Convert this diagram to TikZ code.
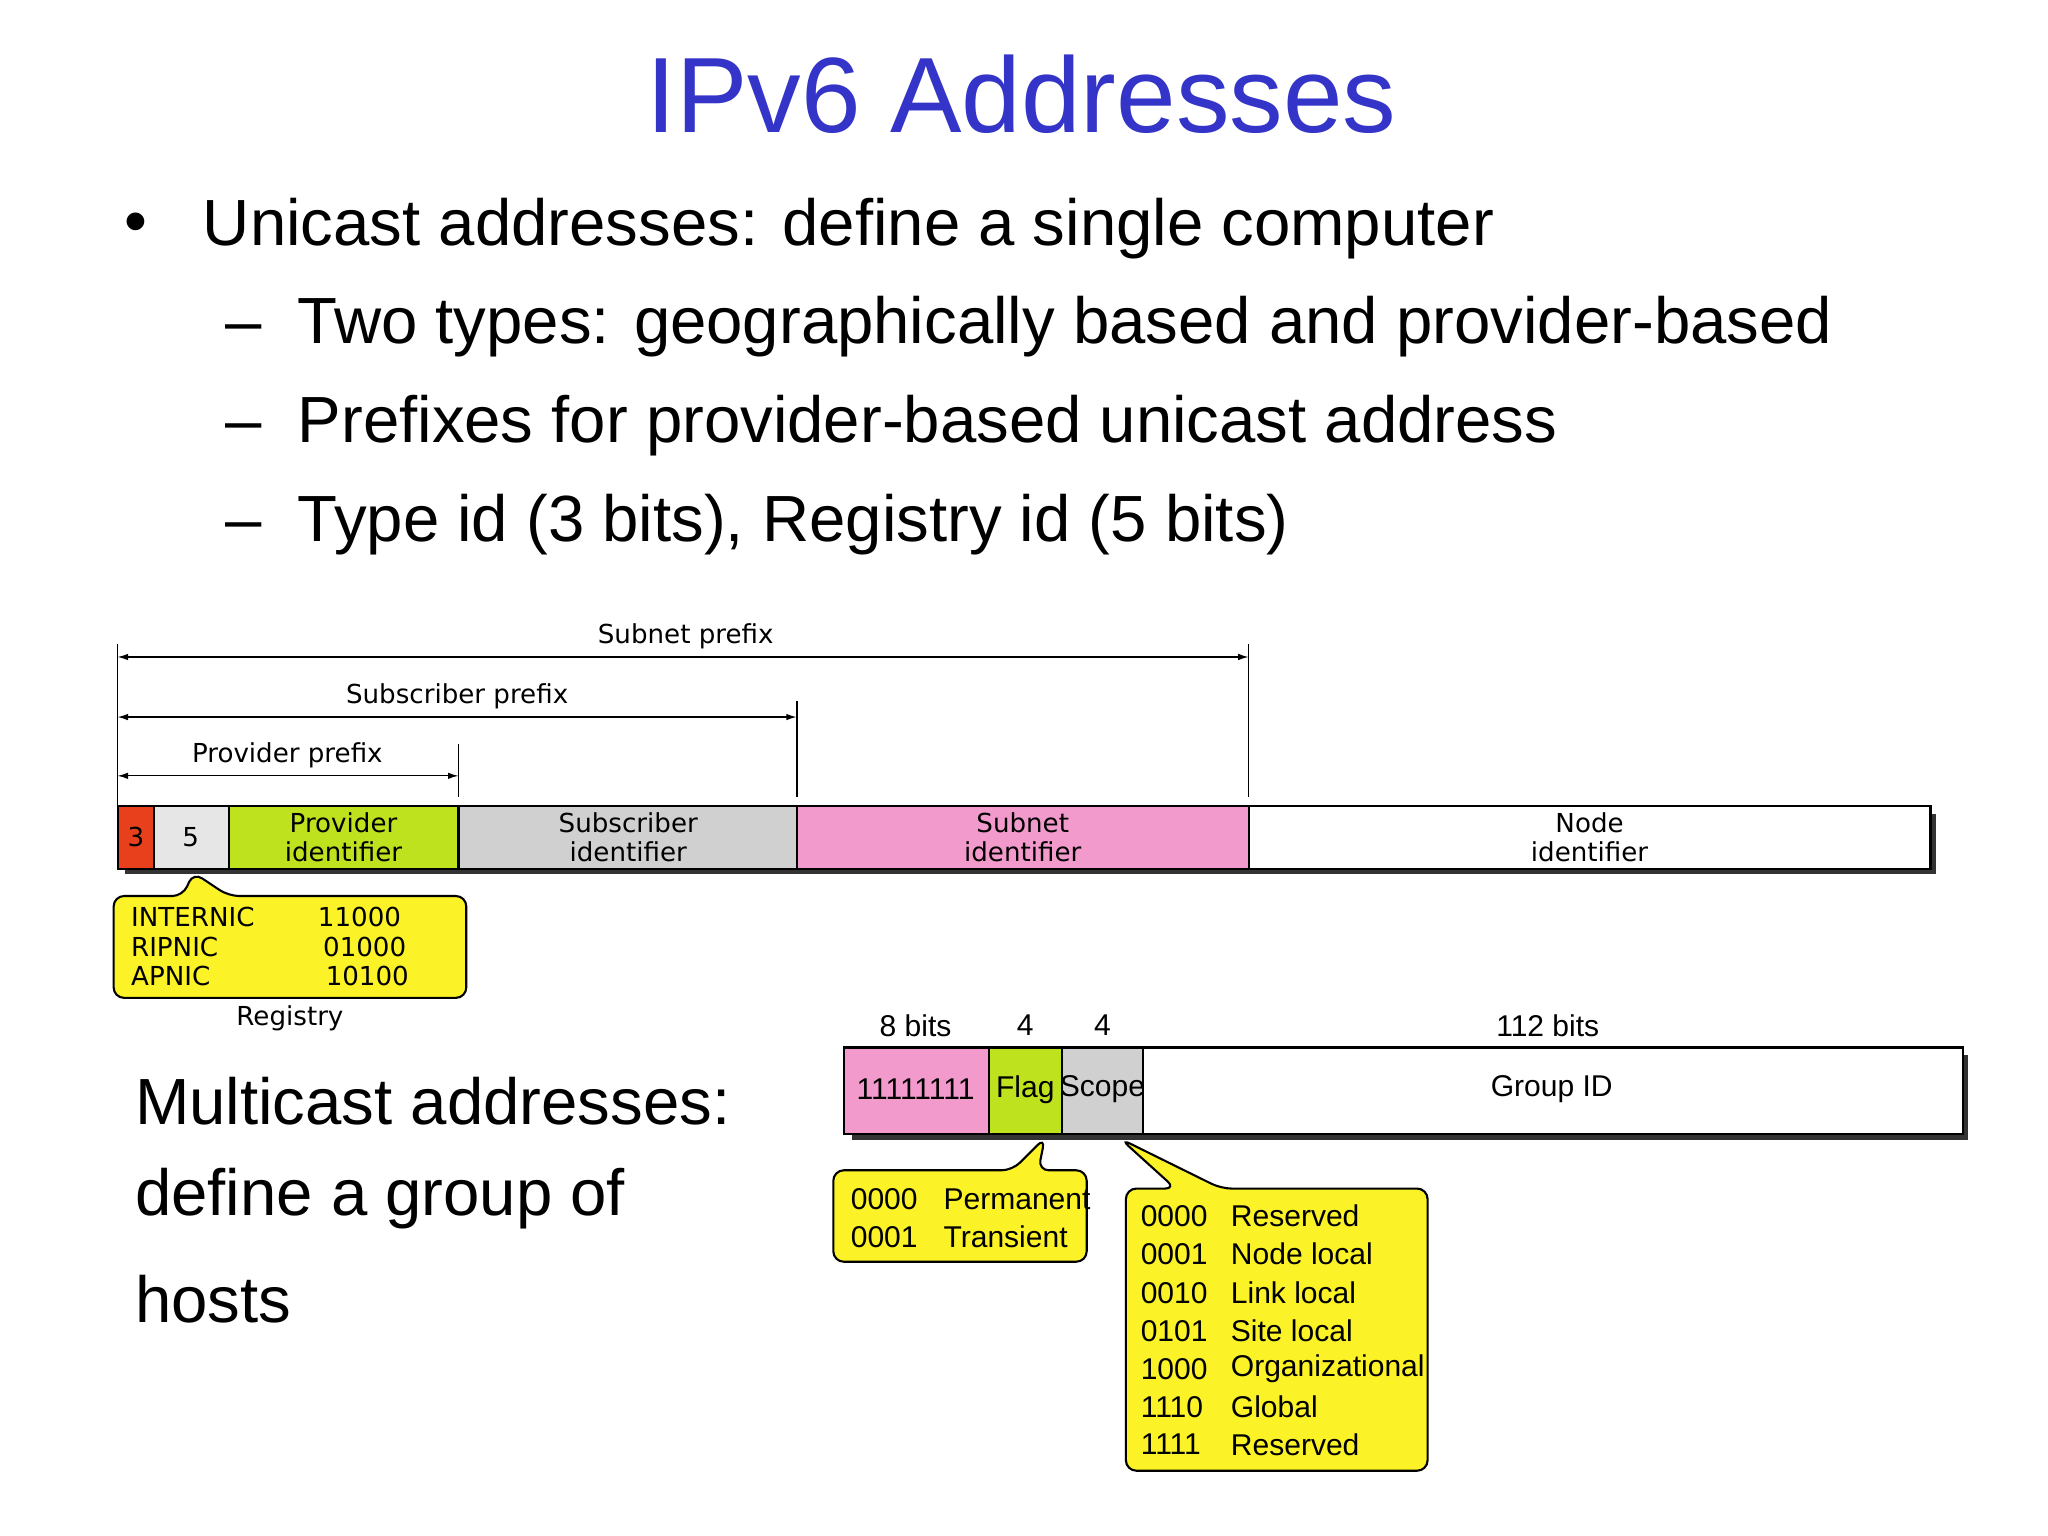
\documentclass[tikz,border=0pt]{standalone}
\usepackage{fontspec}
\setmainfont{Liberation Sans}
\newfontfamily\dfont{DejaVu Sans}
\usetikzlibrary{arrows.meta}
\definecolor{ttl}{HTML}{3434C8}
\definecolor{cred}{HTML}{E8401C}
\definecolor{cgray}{HTML}{D0D0D0}
\definecolor{clgray}{HTML}{E6E6E6}
\definecolor{cgreen}{HTML}{BFE21E}
\definecolor{cpink}{HTML}{F39ACD}
\definecolor{cyel}{HTML}{FCF228}
\tikzset{
  seg/.style={draw=black, line width=0.8pt},
  lbl/.style={font=\dfont\fontsize{10}{11}\selectfont, align=center, inner sep=0},
  mlbl/.style={font=\fontsize{11.5}{12}\selectfont, inner sep=0},
  dim/.style={line width=0.5pt, {Latex[length=4pt,width=2.5pt]}-{Latex[length=4pt,width=2.5pt]}},
  callout/.style={draw=black, fill=cyel, line width=0.8pt, rounded corners=4pt},
  body/.style={font=\fontsize{25}{30}\selectfont, anchor=west, inner sep=0},
}
\begin{document}
\begin{tikzpicture}[x=0.5pt,y=-0.5pt]
\useasboundingbox (0,0) rectangle (1568,1176);
\node[text=ttl, font=\fontsize{41}{48}\selectfont] (title) at (782,72) {IPv6 Addresses};
\node[body] (b0) at (95,175) {•};
\node[body] (b1) at (155,175) {Unicast addresses: define a single computer};
\node[body] (d1) at (172,250) {–\ \ Two types: geographically based and provider-based};
\node[body] (d2) at (172,326) {–\ \ Prefixes for provider-based unicast address};
\node[body] (d3) at (172,402) {–\ \ Type id (3 bits), Registry id (5 bits)};
\node[body] (m1) at (103,843) {Multicast addresses:};
\node[body] (m2) at (103,918) {define a group of};
\node[body] (m3) at (103,995) {hosts};
% unicast bar
\fill[black!80] (96,623) rectangle (1482,669);
\draw[seg, fill=cred] (90,617) rectangle (118,665);
\draw[seg, fill=clgray] (118,617) rectangle (175,665);
\draw[seg, fill=cgreen] (175,617) rectangle (351,665);
\draw[seg, fill=cgray] (351,617) rectangle (610,665);
\draw[seg, fill=cpink] (610,617) rectangle (956,665);
\draw[seg, fill=white] (956,617) rectangle (1478,665);
\node[lbl] (t3) at (104,641) {3};
\node[lbl] (t5) at (146,641) {5};
\node[lbl] (tp) at (263,641) {Provider\\identifier};
\node[lbl] (ts) at (481,641) {Subscriber\\identifier};
\node[lbl] (tn) at (783,641) {Subnet\\identifier};
\node[lbl] (td) at (1217,641) {Node\\identifier};
% dims
\draw[line width=0.6pt] (90,493) -- (90,617) (956,493) -- (956,610) (610,537) -- (610,610) (351,570) -- (351,610);
\draw[dim] (90,503) -- (956,503);
\draw[dim] (90,549) -- (610,549);
\draw[dim] (90,594) -- (351,594);
\node[lbl] at (525,487) {Subnet prefix};
\node[lbl] at (350,533) {Subscriber prefix};
\node[lbl] at (220,578) {Provider prefix};
% registry callout
\draw[callout] (87,686) -- (140,686) -- (148,668) -- (175,686) -- (357,686) -- (357,764) -- (87,764) -- cycle;
\node[lbl, anchor=west] at (100,702) {INTERNIC};
\node[lbl, anchor=west] at (100,725) {RIPNIC};
\node[lbl, anchor=west] at (100,747) {APNIC};
\node[lbl, anchor=west] at (243,702) {11000};
\node[lbl, anchor=west] at (247,725) {01000};
\node[lbl, anchor=west] at (249,747) {10100};
\node[lbl] at (222,780) {Registry};
% multicast bar
\fill[black!80] (652,808) rectangle (1507,873);
\draw[seg, fill=cpink] (646,802) rectangle (757,868);
\draw[seg, fill=cgreen] (757,802) rectangle (813,868);
\draw[seg, fill=cgray] (813,802) rectangle (875,868);
\draw[seg, fill=white] (875,802) rectangle (1503,868);
\node[mlbl] at (701,834) {11111111};
\node[mlbl] at (785,834) {Flag};
\node[mlbl] at (844,834) {Scope};
\node[mlbl] at (1188,834) {Group ID};
\node[mlbl] at (701,785) {8 bits};
\node[mlbl] at (785,785) {4};
\node[mlbl] at (844,785) {4};
\node[mlbl] at (1185,785) {112 bits};
% flag callout
\draw[callout] (638,896) -- (775,896) -- (800,871) -- (795,896) -- (832,896) -- (832,966) -- (638,966) -- cycle;
\node[mlbl, anchor=west] at (651,918) {0000};
\node[mlbl, anchor=west] at (651,947) {0001};
\node[mlbl, anchor=west] at (722,918) {Permanent};
\node[mlbl, anchor=west] at (722,947) {Transient};
% scope callout
\draw[callout] (862,910) -- (900,910) -- (858,872) -- (935,910) -- (1093,910) -- (1093,1126) -- (862,1126) -- cycle;
\foreach \y/\c/\t in {931/0000/Reserved, 960/0001/Node local, 990/0010/Link local, 1019/0101/Site local, 1048/1000/Organizational, 1077/1110/Global, 1106/1111/Reserved}{
  \node[mlbl, anchor=west] at (873,\y) {\c};
  \node[mlbl, anchor=west] at (942,\y) {\t};
}
\end{tikzpicture}
\end{document}
